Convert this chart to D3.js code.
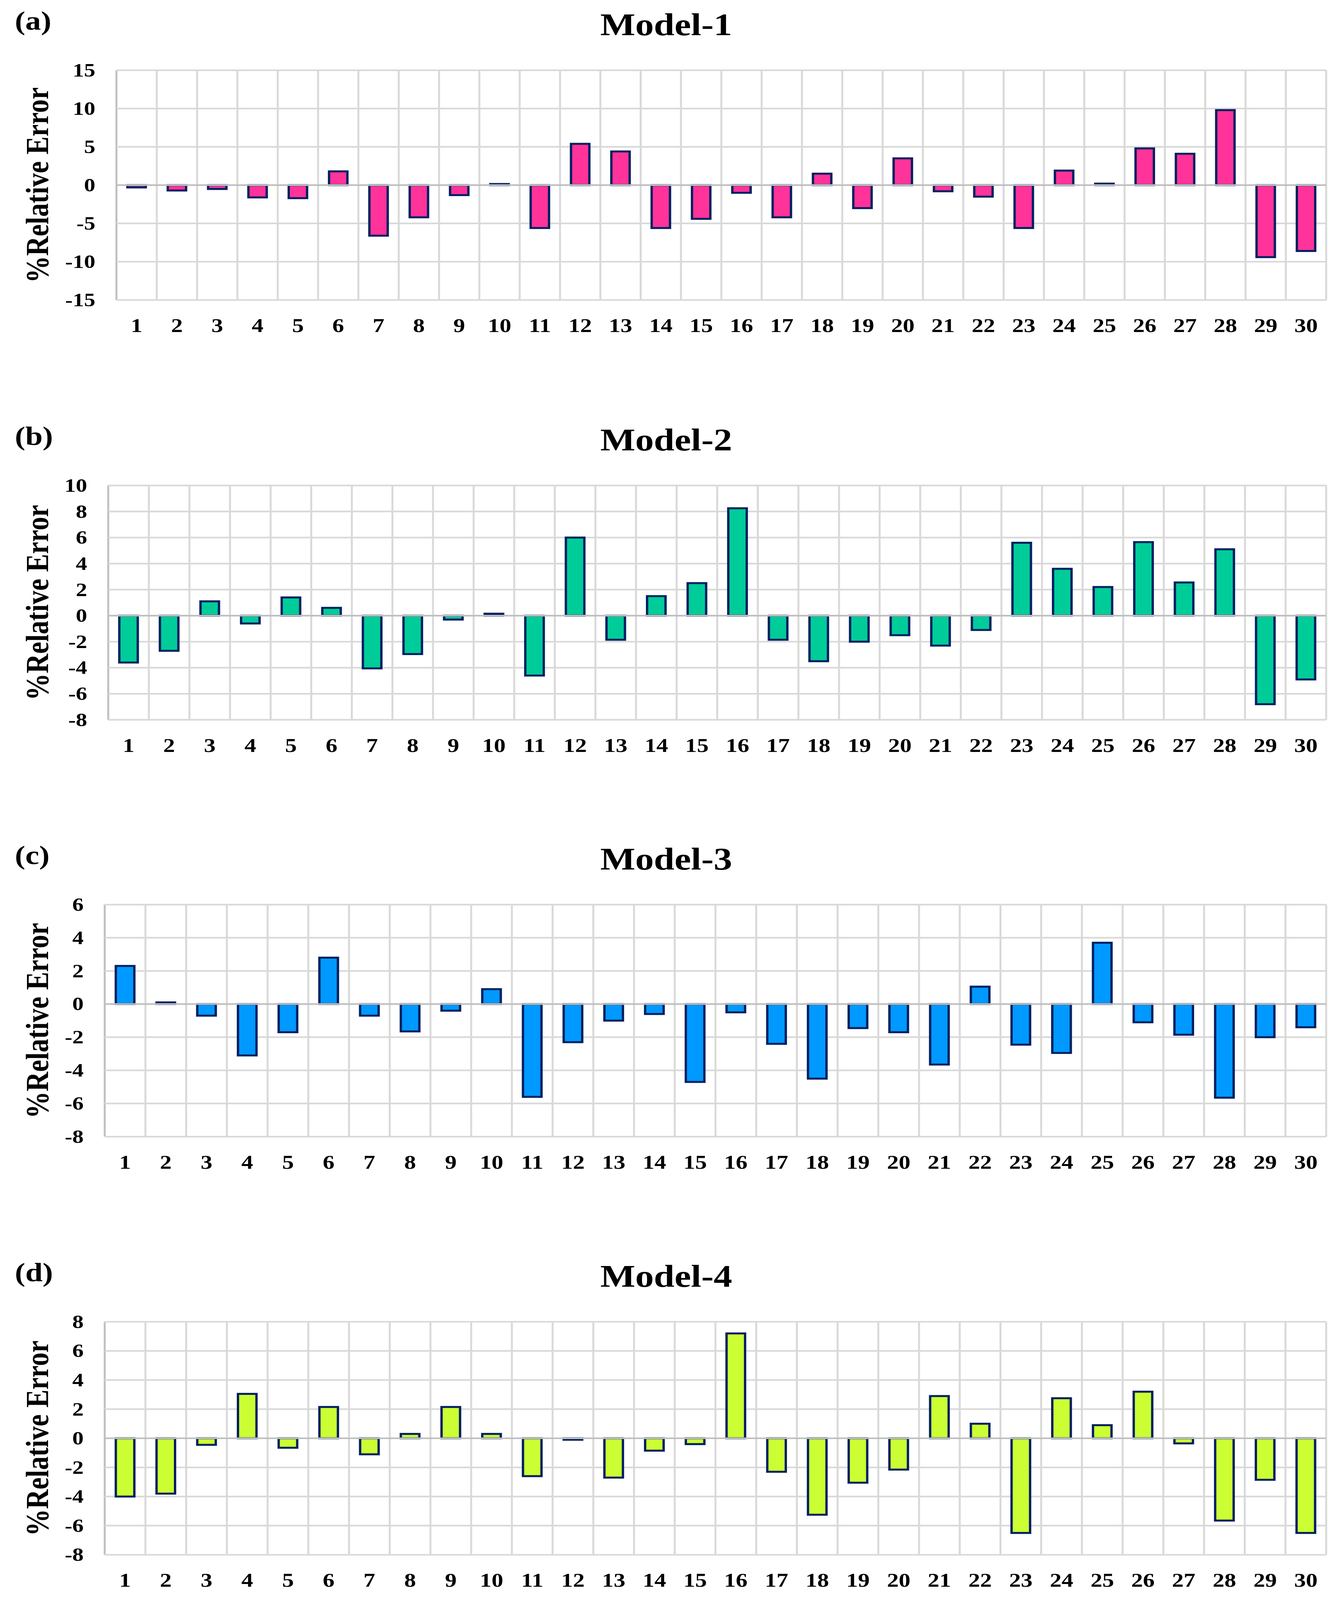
<!DOCTYPE html>
<html>
<head>
<meta charset="utf-8">
<script src="https://cdn.jsdelivr.net/npm/d3@7"></script>
<style>
  html, body { margin: 0; padding: 0; background: #fff; overflow: hidden; }
  svg { display: block; width: 100vw; height: 100vh; }
  text { font-family: "Liberation Serif", "Times New Roman", serif; font-weight: bold; fill: #000; }
</style>
</head>
<body>
<script>
// sample numbers along the x axis
const samples = d3.range(1, 31);

// %relative error
const model1 = [-0.3, -0.7, -0.5, -1.6, -1.7, 1.8, -6.6, -4.2, -1.3, 0.15,
                -5.6, 5.4, 4.4, -5.6, -4.4, -1.0, -4.2, 1.5, -3.0, 3.5,
                -0.8, -1.5, -5.6, 1.9, 0.2, 4.8, 4.1, 9.8, -9.4, -8.6];
const model2 = [-3.6, -2.7, 1.1, -0.6, 1.4, 0.6, -4.05, -2.95, -0.3, 0.15,
                -4.6, 6.0, -1.85, 1.5, 2.5, 8.25, -1.85, -3.5, -2.0, -1.5,
                -2.3, -1.1, 5.6, 3.6, 2.2, 5.65, 2.55, 5.1, -6.8, -4.9];
const model3 = [2.3, 0.1, -0.7, -3.1, -1.7, 2.8, -0.7, -1.65, -0.4, 0.9,
                -5.6, -2.3, -1.0, -0.6, -4.7, -0.5, -2.4, -4.5, -1.45, -1.7,
                -3.65, 1.05, -2.45, -2.95, 3.7, -1.1, -1.85, -5.65, -2.0, -1.4];
const model4 = [-4.0, -3.8, -0.45, 3.05, -0.65, 2.15, -1.1, 0.3, 2.15, 0.3,
                -2.6, -0.1, -2.7, -0.85, -0.4, 7.2, -2.3, -5.25, -3.05, -2.15,
                2.9, 1.0, -6.5, 2.75, 0.9, 3.2, -0.35, -5.65, -2.85, -6.5];

const panelTitles = ["Model-1", "Model-2", "Model-3", "Model-4"];
const panelLetters = ["(a)", "(b)", "(c)", "(d)"];
const yTitle = "%Relative Error";

const yTicks1 = [-15, -10, -5, 0, 5, 10, 15];
const yTicks2 = [-8, -6, -4, -2, 0, 2, 4, 6, 8, 10];
const yTicks3 = [-8, -6, -4, -2, 0, 2, 4, 6];
const yTicks4 = [-8, -6, -4, -2, 0, 2, 4, 6, 8];

const barColors = ["#ff3399", "#00cc99", "#0099ff", "#ccff33"];

// layout of the four stacked panels (pixels)
const W = 3437, H = 4848;
const right = 3394;
const panels = [
  {values: model1, ticks: yTicks1, top: 213,  bottom: 909,  left: 298},
  {values: model2, ticks: yTicks2, top: 1471, bottom: 2181, left: 277},
  {values: model3, ticks: yTicks3, top: 2741, bottom: 3444, left: 268},
  {values: model4, ticks: yTicks4, top: 4005, bottom: 4711, left: 268}
];

// drawing is done in 3437x4848 units and stretched to fill the window
const svg = d3.select('body').append('svg')
  .attr('viewBox', `0 0 ${W} ${H}`)
  .attr('preserveAspectRatio', 'none');

svg.append('rect').attr('width', W).attr('height', H).attr('fill', '#fff');

panels.forEach((p, i) => drawPanel(p, i));

function drawPanel(p, i) {
  const g = svg.append('g');

  const x = d3.scaleBand()
    .domain(samples)
    .range([p.left, right])
    .paddingInner(0.545)
    .paddingOuter(0.2725);

  const y = d3.scaleLinear()
    .domain(d3.extent(p.ticks))
    .range([p.bottom, p.top]);

  // vertical grid at category boundaries
  const half = x.step() * x.paddingInner() / 2;
  const bounds = samples.map(s => x(s) - half).concat([right]);
  g.selectAll('.vgrid')
    .data(bounds)
    .enter().append('line')
    .attr('x1', d => d).attr('x2', d => d)
    .attr('y1', p.top).attr('y2', p.bottom)
    .attr('stroke', (d, k) => k === 0 ? '#bfbfbf' : '#d9d9d9')
    .attr('stroke-width', 5);

  // horizontal grid
  g.selectAll('.hgrid')
    .data(p.ticks.filter(t => t !== 0))
    .enter().append('line')
    .attr('x1', p.left).attr('x2', right)
    .attr('y1', d => y(d)).attr('y2', d => y(d))
    .attr('stroke', '#d9d9d9').attr('stroke-width', 5);

  // bars
  g.selectAll('.bar')
    .data(p.values)
    .enter().append('rect')
    .attr('x', (d, k) => x(samples[k]))
    .attr('width', x.bandwidth())
    .attr('y', d => y(Math.max(0, d)))
    .attr('height', d => Math.abs(y(d) - y(0)))
    .attr('fill', barColors[i])
    .attr('stroke', '#002060')
    .attr('stroke-width', 6);

  // zero line
  g.append('line')
    .attr('x1', p.left).attr('x2', right)
    .attr('y1', y(0)).attr('y2', y(0))
    .attr('stroke', '#bfbfbf').attr('stroke-width', 5);

  // y axis labels (plain hyphen for negatives, as in the original)
  const yAxis = g.append('g')
    .attr('transform', `translate(${p.left},0)`)
    .call(d3.axisLeft(y).tickValues(p.ticks).tickFormat(d => String(d)).tickSize(0).tickPadding(54));
  yAxis.select('.domain').remove();
  yAxis.selectAll('text')
    .style('font-family', '"Liberation Serif", "Times New Roman", serif')
    .style('font-weight', 'bold')
    .style('font-size', '58px')
    .attr('fill', '#000');

  // x axis labels
  const xAxis = g.append('g')
    .attr('transform', `translate(0,${p.bottom})`)
    .call(d3.axisBottom(x).tickSize(0));
  xAxis.select('.domain').remove();
  xAxis.selectAll('text')
    .attr('dy', null)
    .attr('y', 97)
    .style('font-family', '"Liberation Serif", "Times New Roman", serif')
    .style('font-weight', 'bold')
    .style('font-size', '60px')
    .attr('fill', '#000');

  // y title
  g.append('text')
    .attr('transform', `translate(123,${(p.top + p.bottom) / 2}) rotate(-90)`)
    .attr('text-anchor', 'middle')
    .style('font-size', '82px')
    .text(yTitle);

  // panel title
  const tc = p.top - 137;
  g.append('text')
    .attr('x', 1705)
    .attr('y', tc + 31)
    .attr('text-anchor', 'middle')
    .style('font-size', '95px')
    .text(panelTitles[i]);

  // panel letter
  g.append('text')
    .attr('x', 38)
    .attr('y', tc + 14)
    .style('font-size', '80px')
    .text(panelLetters[i]);
}
</script>
</body>
</html>
